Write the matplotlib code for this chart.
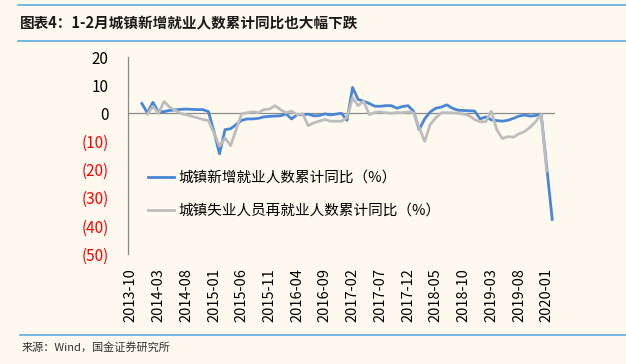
import numpy as np
import pandas as pd
import matplotlib
matplotlib.use("Agg")
import matplotlib.pyplot as plt

# =====================================
# DATA
# =====================================

months = pd.period_range("2013-10", periods=77, freq="M").strftime("%Y-%m").tolist()

new_jobs_yoy = [
    np.nan, np.nan, 3.5, 0.1, 3.9, 0.4, 0.6, 1.0, 1.2, 1.4,
    1.5, 1.4, 1.3, 1.3, 0.6, -6.5, -14.4, -5.8, -5.5, -4.0,
    -2.5, -2.0, -2.0, -1.8, -1.3, -1.1, -1.0, -0.9, -0.2, -2.0,
    -0.5, -0.5, -0.3, -0.9, -0.8, -0.2, -0.6, -0.3, 0.0, -2.5,
    9.2, 4.9, 4.3, 3.5, 2.5, 2.5, 2.7, 2.7, 1.8, 2.4,
    2.7, 0.7, -5.8, -2.0, 0.5, 1.8, 2.2, 3.0, 1.8, 1.1,
    1.0, 0.9, 0.8, -2.0, -1.3, -2.3, -2.6, -2.8, -2.5, -1.8,
    -1.0, -0.6, -1.0, -0.8, -0.3, -19.0, -37.7,
]

reemployed_yoy = [
    np.nan, np.nan, np.nan, -0.3, 2.5, 0.0, 4.2, 2.2, 1.1, -0.1,
    -0.5, -1.1, -1.6, -2.2, -2.6, -7.0, -11.7, -8.8, -11.5, -5.8,
    -0.2, 0.2, 0.5, 0.2, 1.3, 1.5, 2.7, 1.3, 0.2, 0.8,
    -0.5, -0.2, -4.4, -3.4, -2.8, -2.2, -2.8, -2.8, -2.8, -1.5,
    5.5, 2.7, 4.3, -0.5, 0.3, 0.5, 0.2, 0.0, 0.3, 0.2,
    0.5, 0.2, -5.0, -10.0, -4.0, -1.6, 0.2, 0.2, 0.2, 0.0,
    -0.3, -0.8, -2.2, -3.0, -3.0, 0.7, -5.8, -9.0, -8.3, -8.5,
    -7.3, -6.5, -5.0, -3.0, -0.3, -20.5, np.nan,
]

yticks = [20, 10, 0, -10, -20, -30, -40, -50]
ytick_labels = ["20", "10", "0", "(10)", "(20)", "(30)", "(40)", "(50)"]

title = "图表4：1-2月城镇新增就业人数累计同比也大幅下跌"
source = "来源：Wind，国金证券研究所"
label_new = "城镇新增就业人数累计同比（%）"
label_re = "城镇失业人员再就业人数累计同比（%）"

# =====================================
# STYLE
# =====================================

plt.rcParams["font.family"] = ["Noto Sans CJK SC", "DejaVu Sans"]

bg = "#FDF9EF"
rule_color = "#5AAEDB"

fig = plt.figure(figsize=(6.26, 3.64), dpi=100)
fig.patch.set_facecolor(bg)

ax = fig.add_axes([128 / 626, 1 - 254 / 364, 427 / 626, 197 / 364])
ax.set_facecolor(bg)

# =====================================
# LINES
# =====================================

x = np.arange(len(months))

ax.plot(x, new_jobs_yoy, color="#4A86D6", linewidth=2.0, label=label_new)
ax.plot(x, reemployed_yoy, color="#BDBDBD", linewidth=2.0, label=label_re)

ax.axhline(0, color="#8C8C8C", linewidth=0.9, zorder=0)

ax.set_xlim(-0.5, len(months) - 0.5)
ax.set_ylim(-50, 20)

ax.set_yticks(yticks)
ax.set_yticklabels(ytick_labels, fontsize=11)
for lbl, v in zip(ax.get_yticklabels(), yticks):
    lbl.set_color("red" if v < 0 else "black")

ax.set_xticks(x[::5])
ax.set_xticklabels(months[::5], rotation=90, fontsize=10.5)

ax.tick_params(axis="both", length=0)
ax.tick_params(axis="y", pad=14)
ax.tick_params(axis="x", pad=10)

for side in ["top", "right", "bottom"]:
    ax.spines[side].set_visible(False)
ax.spines["left"].set_color("#8C8C8C")
ax.spines["left"].set_linewidth(0.9)

ax.legend(
    loc="upper left",
    bbox_to_anchor=(148 / 626, 1 - 171 / 364),
    bbox_transform=fig.transFigure,
    frameon=False,
    fontsize=10.5,
    handlelength=1.8,
    handletextpad=0.3,
    labelspacing=1.3,
    borderpad=0,
    borderaxespad=0,
)

# =====================================
# TITLE, RULES AND SOURCE
# =====================================

fig.add_artist(plt.Line2D([18 / 626, 1], [1 - 5 / 364] * 2, color=rule_color, linewidth=1.2))
fig.add_artist(plt.Line2D([18 / 626, 1], [1 - 41 / 364] * 2, color=rule_color, linewidth=1.2))
fig.add_artist(plt.Line2D([20 / 626, 1], [1 - 335 / 364] * 2, color=rule_color, linewidth=1.2))

fig.text(20 / 626, 1 - 23 / 364, title, fontsize=10.5, fontweight="bold",
         va="center", ha="left", color="#1a1a1a")
fig.text(22 / 626, 1 - 347 / 364, source, fontsize=8, va="center", ha="left",
         color="#333333")

plt.savefig("out.png", dpi=100, facecolor=bg)
